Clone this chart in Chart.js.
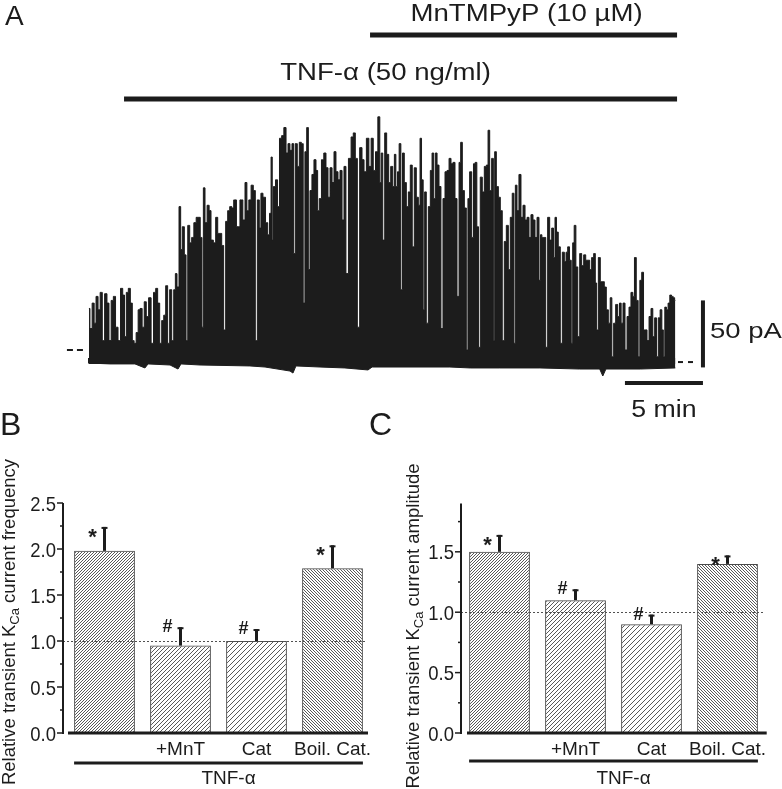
<!DOCTYPE html>
<html>
<head>
<meta charset="utf-8">
<script src="https://cdn.jsdelivr.net/npm/chart.js@4.4.1/dist/chart.umd.min.js"></script>
<style>
  body { margin: 0; background: #fff; }
  #wrap { position: relative; width: 782px; height: 789px; overflow: hidden; }
  canvas { position: absolute; }
</style>
</head>
<body>
<div id="wrap">
  <canvas id="trace" width="782" height="430" style="left:0;top:0"></canvas>
  <canvas id="freq" width="400" height="389" style="left:0;top:400px"></canvas>
  <canvas id="amp" width="422" height="389" style="left:360px;top:400px"></canvas>
</div>
<script>
// panel A: envelope of the recorded trace, time in min, current in pA
const traceTime = [
  0.06, 0.19, 0.34, 0.45, 0.58, 0.71, 0.85, 0.98, 1.15, 1.28, 1.41, 1.56, 1.69, 1.84, 2.01, 2.16, 2.29, 2.39, 2.52, 2.65,
  2.78, 2.90, 3.01, 3.16, 3.27, 3.40, 3.54, 3.67, 3.80, 3.97, 4.12, 4.28, 4.40, 4.53, 4.66, 4.79, 4.92, 5.04, 5.17, 5.30,
  5.43, 5.56, 5.64, 5.77, 5.90, 5.98, 6.11, 6.24, 6.33, 6.46, 6.58, 6.71, 6.86, 7.01, 7.13, 7.26, 7.35, 7.44, 7.56, 7.71,
  7.82, 7.95, 8.12, 8.25, 8.38, 8.51, 8.63, 8.76, 8.89, 9.02, 9.15, 9.28, 9.40,
  9.63, 9.85, 10.00, 10.13, 10.24, 10.38, 10.53, 10.66, 10.79, 10.92, 11.04, 11.13, 11.30, 11.46, 11.58, 11.69, 11.78, 11.84, 11.94, 12.10,
  12.20, 12.35, 12.48, 12.63, 12.76, 12.88, 13.01, 13.14, 13.22, 13.35, 13.48, 13.61, 13.74, 13.85, 13.96, 14.08, 14.17, 14.29, 14.42, 14.55,
  14.68, 14.76, 14.89, 15.04, 15.19, 15.32, 15.45, 15.58, 15.71, 15.83, 15.96, 16.09, 16.22, 16.35, 16.47, 16.60, 16.79, 16.94, 17.07, 17.20,
  17.33, 17.50, 17.63, 17.76, 17.93, 18.08, 18.22, 18.35, 18.51, 18.65, 18.76, 18.83, 18.96, 19.08, 19.21, 19.34, 19.47, 19.60,
  19.68, 19.79, 19.89, 20.00, 20.11, 20.21, 20.34, 20.47, 20.60, 20.72, 20.85, 20.98, 21.11, 21.24, 21.33, 21.43, 21.54, 21.62, 21.75, 21.88,
  22.01, 22.10, 22.22, 22.31, 22.44, 22.56, 22.69, 22.82, 22.95, 23.08, 23.21, 23.33, 23.46, 23.59, 23.72, 23.85, 23.93, 24.06, 24.19, 24.31,
  24.40, 24.53, 24.66, 24.76, 24.87, 24.98, 25.08, 25.21, 25.34, 25.47, 25.60, 25.69, 25.81, 25.94, 26.03, 26.11, 26.24, 26.37, 26.49, 26.62,
  26.75, 26.88, 27.01, 27.13, 27.26, 27.35, 27.44, 27.56, 27.69, 27.82, 27.95, 28.08, 28.21, 28.33, 28.46, 28.59, 28.72, 28.85, 28.97,
  29.04, 29.15, 29.28, 29.40, 29.53, 29.66, 29.79, 29.89, 29.98, 30.08, 30.21, 30.34, 30.47, 30.60, 30.69, 30.81, 30.92, 31.03, 31.11, 31.22,
  31.33, 31.46, 31.58, 31.71, 31.84, 31.97, 32.10, 32.22, 32.35, 32.48, 32.56, 32.65, 32.78, 32.90, 33.03, 33.16, 33.29, 33.42, 33.53, 33.63,
  33.76, 33.89, 34.02, 34.12, 34.23, 34.36, 34.49, 34.62, 34.74, 34.87, 34.98, 35.08, 35.21, 35.32, 35.43, 35.56, 35.66, 35.77, 35.90, 36.03,
  36.15, 36.26, 36.39, 36.49, 36.62, 36.73, 36.84, 36.92, 37.03, 37.13, 37.24, 37.35, 37.46, 37.56, 37.65
];
const traceCurrent = [
  31, 16, 35, 20, 40, 30, 43, 7, 42, 35, 7, 37, 40, 17, 7, 46, 41, 10, 43, 46,
  35, 7, 5, 13, 30, 31, 17, 36, 25, 39, 5, 43, 46, 35, 5, 22, 26, 48, 5, 45,
  7, 45, 57, 47, 107, 75, 92, 71, 7, 93, 80, 84, 95, 99, 99, 84, 17, 121, 95, 108,
  104, 82, 80, 99, 87, 87, 78, 15, 96, 104, 107, 106, 112,
  92, 112, 97, 125, 104, 112, 123, 119, 7, 112, 91, 117, 114, 95, 86, 102, 144, 82, 122, 127,
  107, 158, 160, 166, 147, 154, 149, 154, 72, 154, 137, 155, 154, 35, 148, 166, 60, 119, 131, 142,
  134, 104, 113, 142, 147, 136, 114, 136, 125, 148, 133, 127, 134, 97, 137, 57, 143, 159, 162, 143,
  17, 151, 142, 133, 158, 137, 158, 134, 148, 174, 125, 147, 82, 162, 146, 125, 137, 122,
  146, 122, 133, 154, 45, 147, 125, 107, 118, 138, 77, 136, 114, 108, 158, 127, 30, 118, 20, 107,
  134, 147, 113, 147, 138, 122, 16, 113, 133, 134, 143, 139, 140, 113, 40, 140, 155, 119, 106, 0,
  113, 133, 84, 139, 140, 92, 2, 129, 118, 137, 138, 164, 119, 143, 7, 148, 122, 114, 104, 7,
  81, 93, 60, 99, 117, 5, 123, 104, 131, 99, 108, 97, 99, 84, 101, 97, 84, 99, 52,
  86, 84, 84, 2, 99, 82, 91, 69, 99, 88, 77, 5, 73, 66, 73, 77, 67, 5, 80, 93,
  62, 10, 72, 63, 71, 67, 67, 60, 69, 72, 50, 15, 69, 51, 51, 47, 30, 20, 39, -5,
  20, 34, 25, 35, 20, 35, 0, 25, 32, 43, 40, 69, 37, -5, 52, 58, 15, 15, 7, 25,
  31, 10, 24, -5, 24, 30, 15, -5, 32, 30, 35, 41, 40, 39, 37
];
// lower edge of the noise band
const floorTime = [0, 1.41, 3.01, 3.65, 3.85, 5.26, 5.77, 5.96, 7.18, 10.38, 11.35, 12.95, 13.14, 13.33, 14.87,
  16.47, 17.95, 18.21, 20.0, 23.2, 24.5, 26.4, 28.97, 31.5, 32.8, 33.0, 33.2, 35.4, 37.65];
const floorCurrent = [-9.7, -10.4, -10.4, -13.4, -10.4, -11.2, -14.2, -10.4, -11.2, -11.9, -12.7, -15.7, -17.2, -11.9, -12.7,
  -13.4, -14.9, -12.7, -12.7, -12.7, -13.4, -13.4, -13.4, -14.2, -14.2, -19.4, -14.2, -14.2, -13.4];
const zeroLevel = [0, -9]; // baseline before / after
const drugNames = ['MnTMPyP (10 µM)', 'TNF-α (50 ng/ml)'];
const drugOn = [18.08, 2.31];
const drugOff = [37.76, 37.76];
const scaleBarPA = 50;
const scaleBarMin = 5;

// panels B and C
const groups = ['', '+MnT', 'Cat', 'Boil. Cat.'];
const freqMean = [1.98, 0.95, 1.00, 1.79];
const freqErr = [0.26, 0.20, 0.13, 0.25];
const ampMean = [1.50, 1.10, 0.90, 1.40];
const ampErr = [0.14, 0.09, 0.08, 0.07];
const marks = ['*', '#', '#', '*'];
const freqTicks = [0, 0.5, 1.0, 1.5, 2.0, 2.5];
const ampTicks = [0, 0.5, 1.0, 1.5];

const ink = '#1c1c1c';
const FONT = '"Liberation Sans", Arial, sans-serif';

function stretchText(ctx, str, x, y, font, sx, align) {
  ctx.save();
  ctx.translate(x, y);
  ctx.scale(sx, 1);
  ctx.font = font + ' ' + FONT;
  ctx.textAlign = align || 'left';
  ctx.textBaseline = 'alphabetic';
  ctx.fillText(str, 0, 0);
  ctx.restore();
}

function seg(ctx, x0, y0, x1, y1) {
  ctx.beginPath();
  ctx.moveTo(x0, y0);
  ctx.lineTo(x1, y1);
  ctx.stroke();
}

// ---------- panel A ----------
const tracePlugin = {
  id: 'traceDeco',
  afterDraw(chart) {
    const ctx = chart.ctx, x = chart.scales.x, y = chart.scales.y;
    ctx.save();
    ctx.fillStyle = ink;
    ctx.strokeStyle = ink;
    stretchText(ctx, 'A', 5, 25, '28px', 1);

    // application bars
    const barY = [35, 99], txtUp = [14, 19], txtShift = [3, -15];
    drugNames.forEach((name, i) => {
      const x0 = x.getPixelForValue(drugOn[i]), x1 = x.getPixelForValue(drugOff[i]);
      ctx.fillRect(x0, barY[i] - 2.5, x1 - x0, 5);
      stretchText(ctx, name, (x0 + x1) / 2 + txtShift[i], barY[i] - txtUp[i], '23px', 1.2, 'center');
    });

    // baseline dashes
    ctx.lineWidth = 2;
    ctx.setLineDash([6, 4]);
    seg(ctx, x.getPixelForValue(-1.35), y.getPixelForValue(zeroLevel[0]), x.getPixelForValue(-0.32), y.getPixelForValue(zeroLevel[0]));
    ctx.setLineDash([5, 5]);
    seg(ctx, x.getPixelForValue(37.82), y.getPixelForValue(zeroLevel[1]), x.getPixelForValue(38.8), y.getPixelForValue(zeroLevel[1]));
    ctx.setLineDash([]);

    // scale bars
    const sx = x.getPixelForValue(39.42);
    ctx.lineWidth = 4;
    seg(ctx, sx, y.getPixelForValue(-13), sx, y.getPixelForValue(-13 + scaleBarPA));
    const hy = y.getPixelForValue(-24.6);
    const hx0 = x.getPixelForValue(39.42 - scaleBarMin), hx1 = x.getPixelForValue(39.42);
    seg(ctx, hx0, hy, hx1, hy);
    stretchText(ctx, scaleBarPA + ' pA', sx + 7, y.getPixelForValue(-13 + scaleBarPA / 2) + 4, '22px', 1.25);
    stretchText(ctx, scaleBarMin + ' min', (hx0 + hx1) / 2, hy + 34, '23px', 1.16, 'center');
    ctx.restore();
  }
};

new Chart(document.getElementById('trace'), {
  type: 'line',
  data: {
    datasets: [
      {
        data: traceTime.map((t, i) => ({ x: t, y: traceCurrent[i] })),
        borderColor: ink, backgroundColor: ink, borderWidth: 1,
        pointRadius: 0, stepped: 'middle', fill: { value: -10.5 }
      },
      {
        data: floorTime.map((t, i) => ({ x: t, y: floorCurrent[i] })),
        borderColor: ink, backgroundColor: ink, borderWidth: 1,
        pointRadius: 0, tension: 0, fill: { value: -6 }
      }
    ]
  },
  options: {
    responsive: false, animation: false, events: [],
    layout: { padding: { left: 10, right: 7.6, top: 15, bottom: 39.8 } },
    scales: {
      x: { type: 'linear', min: -5, max: 44, display: false },
      y: { min: -30, max: 250, display: false }
    },
    plugins: { legend: { display: false }, tooltip: { enabled: false } }
  },
  plugins: [tracePlugin]
});

// ---------- panels B, C ----------
function hatch(g, step, dir) {
  const c = document.createElement('canvas');
  c.width = step; c.height = step;
  const h = c.getContext('2d');
  h.strokeStyle = '#585858';
  h.lineWidth = 1;
  h.beginPath();
  for (let k = -1; k <= 1; k++) {
    if (dir > 0) { h.moveTo(k * step, step); h.lineTo(k * step + step, 0); }
    else { h.moveTo(k * step, 0); h.lineTo(k * step + step, step); }
  }
  h.stroke();
  return g.createPattern(c, 'repeat');
}

const panelPlugin = {
  id: 'panel',
  afterDatasetsDraw(chart, args, o) {
    const ctx = chart.ctx, ys = chart.scales.y, area = chart.chartArea;
    const bars = chart.getDatasetMeta(0).data;
    const axisX = area.left - o.axisGap;
    const baseL = area.left + o.baseFrom, baseR = area.right + o.baseTo;
    const y0 = ys.getPixelForValue(0);
    ctx.save();
    ctx.fillStyle = ink;
    ctx.strokeStyle = ink;

    // control level
    ctx.strokeStyle = '#505050';
    ctx.lineWidth = 1;
    ctx.setLineDash([2, 2]);
    const yOne = Math.round(ys.getPixelForValue(1)) + 0.5;
    seg(ctx, axisX, yOne, baseR - 2, yOne);
    ctx.setLineDash([]);
    ctx.strokeStyle = ink;

    // error bars and marks
    bars.forEach((bar, i) => {
      const top = ys.getPixelForValue(o.means[i] + o.errs[i]);
      ctx.lineWidth = 3;
      seg(ctx, bar.x, bar.y, bar.x, top);
      ctx.lineWidth = 2;
      seg(ctx, bar.x - 3, top + 1, bar.x + 3, top + 1);
      if (marks[i] === '*') stretchText(ctx, '*', bar.x - 12, top + 17, 'bold 22px', 1, 'center');
      else stretchText(ctx, '#', bar.x - 13, top + 5, 'bold 18px', 1, 'center');
    });

    // axes
    ctx.lineWidth = 2;
    seg(ctx, axisX, area.top, axisX, y0 + 1);
    ctx.lineWidth = 3;
    seg(ctx, baseL, y0, baseR, y0);
    ctx.lineWidth = 1.5;
    for (let v = 0; v <= ys.max + 1e-6; v += 0.25) {
      const py = ys.getPixelForValue(v);
      const major = o.ticks.some(t => Math.abs(t - v) < 1e-6);
      seg(ctx, axisX - (major ? 6 : 3), py, axisX, py);
    }
    o.ticks.forEach(t => {
      stretchText(ctx, t.toFixed(1), axisX - 7, ys.getPixelForValue(t) + 7.5, '21px', 0.88, 'right');
    });

    // categories
    groups.forEach((g, i) => stretchText(ctx, g, bars[i].x, 355, '19px', 1, 'center'));
    const gl = bars[0].x - bars[0].width / 2, gr = bars[3].x + bars[3].width / 2;
    ctx.lineWidth = 3;
    seg(ctx, gl, o.groupY, gr, o.groupY);
    stretchText(ctx, 'TNF-α', (bars[1].x + bars[2].x) / 2 + 10, 384, '19px', 1, 'center');

    // panel letter
    stretchText(ctx, o.letter, o.letterX, 35, '32px', 1);

    // rotated title with subscript
    ctx.save();
    ctx.translate(o.titleX, o.titleY);
    ctx.rotate(-Math.PI / 2);
    ctx.textBaseline = 'alphabetic';
    ctx.textAlign = 'left';
    const a = 'Relative transient K', sub = 'Ca', b = ' ' + o.title;
    const big = '18.5px ' + FONT, small = '13px ' + FONT;
    ctx.font = big;
    const wa = ctx.measureText(a).width, wb = ctx.measureText(b).width;
    ctx.font = small;
    const ws = ctx.measureText(sub).width;
    let px = -(wa + ws + wb) / 2;
    ctx.font = big;
    ctx.fillText(a, px, 0);
    px += wa;
    ctx.font = small;
    ctx.fillText(sub, px, 4);
    px += ws;
    ctx.font = big;
    ctx.fillText(b, px, 0);
    ctx.restore();

    ctx.restore();
  }
};

const hatchSteps = [3, 4, 5, 3];
const hatchDirs = [1, 1, 1, -1];

function barPanel(id, means, errs, ticks, yMax, pad, opts) {
  const canvas = document.getElementById(id);
  const g = canvas.getContext('2d');
  const fills = hatchSteps.map((s, i) => hatch(g, s, hatchDirs[i]));
  return new Chart(canvas, {
    type: 'bar',
    data: {
      labels: groups,
      datasets: [{
        data: means, backgroundColor: fills, borderColor: '#4a4a4a', borderWidth: 1,
        barPercentage: 0.8, categoryPercentage: 1
      }]
    },
    options: {
      responsive: false, animation: false, events: [],
      layout: { padding: pad },
      scales: { x: { display: false }, y: { min: 0, max: yMax, display: false } },
      plugins: {
        legend: { display: false }, tooltip: { enabled: false },
        panel: Object.assign({ means, errs, ticks }, opts)
      }
    },
    plugins: [panelPlugin]
  });
}

barPanel('freq', freqMean, freqErr, freqTicks, 2.5,
  { left: 66.5, right: 29.5, top: 103, bottom: 56 },
  { letter: 'B', letterX: 0, axisGap: 3.5, baseFrom: 1.5, baseTo: -2.5, groupY: 363,
    title: 'current frequency', titleX: 15, titleY: 222 });

barPanel('amp', ampMean, ampErr, ampTicks, 1.9,
  { left: 101.5, right: 16.5, top: 103.5, bottom: 56 },
  { letter: 'C', letterX: 9, axisGap: 0.5, baseFrom: 5.5, baseTo: 1.2, groupY: 361,
    title: 'current amplitude', titleX: 59, titleY: 226 });
</script>
</body>
</html>
